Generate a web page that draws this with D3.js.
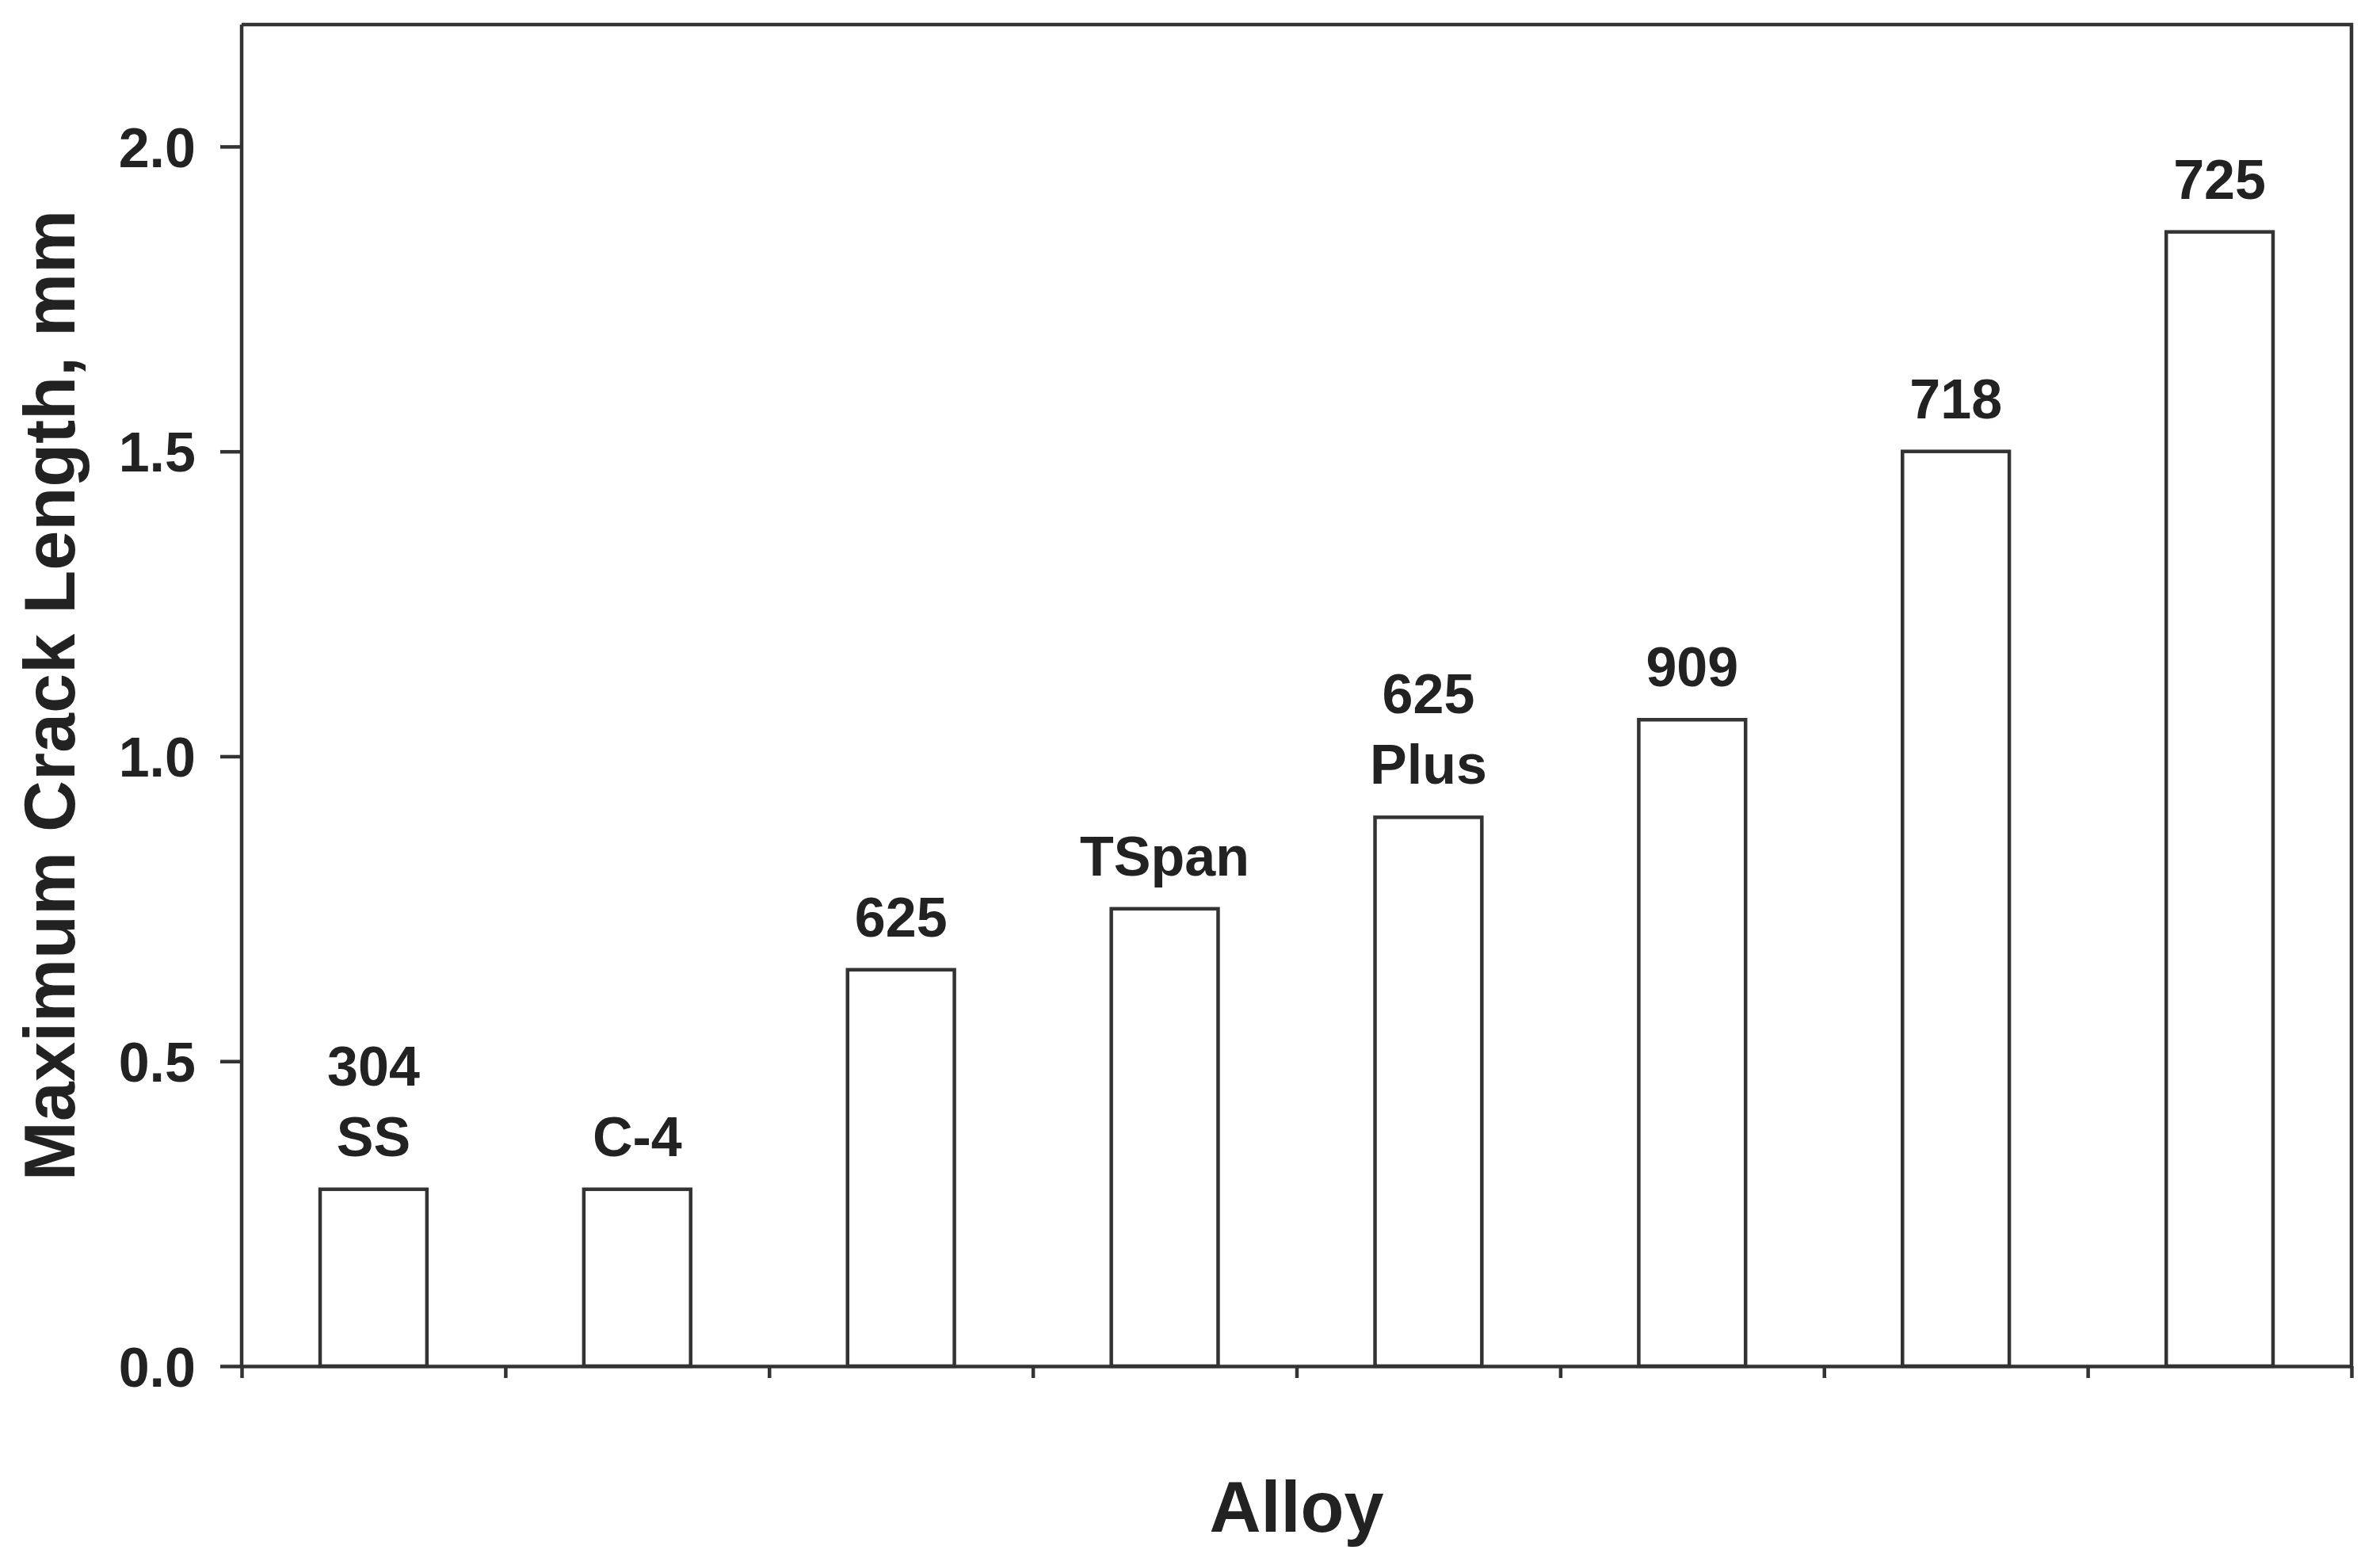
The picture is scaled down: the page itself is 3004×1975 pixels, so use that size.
<!DOCTYPE html>
<html>
<head>
<meta charset="utf-8">
<script src="https://cdn.jsdelivr.net/npm/d3@7"></script>
<style>
  body { margin: 0; background: #fff; }
  text { font-family: "Liberation Sans", Arial, sans-serif; font-weight: bold; fill: #222; }
</style>
</head>
<body>
<svg id="chart"></svg>
<script>
// data
var alloys = ["304 SS", "C-4", "625", "TSpan", "625 Plus", "909", "718", "725"];
var crackLength = [0.29, 0.29, 0.65, 0.75, 0.90, 1.06, 1.50, 1.86];
var yTicks = [0.0, 0.5, 1.0, 1.5, 2.0];

var W = 3004, H = 1975;
var plotL = 305, plotR = 2968, plotT = 31, plotB = 1724;
var ink = "#333";

var svg = d3.select("#chart").attr("width", W).attr("height", H);

var x = d3.scaleBand().domain(alloys).range([plotL, plotR]).padding(0);
var xEdges = d3.scaleLinear().domain([0, alloys.length]).range([plotL, plotR]);
var y = d3.scaleLinear().domain([0, 2.2]).range([plotB, plotT]);

var barW = x.bandwidth() * 0.405;

// frame (top + right)
svg.append("path")
  .attr("d", "M" + plotL + "," + plotT + "H" + plotR + "V" + plotB)
  .attr("fill", "none").attr("stroke", ink).attr("stroke-width", 4.5);

// bars
svg.append("g").selectAll("rect").data(alloys).enter().append("rect")
  .attr("x", function(d) { return x(d) + x.bandwidth() / 2 - barW / 2; })
  .attr("y", function(d, i) { return y(crackLength[i]); })
  .attr("width", barW)
  .attr("height", function(d, i) { return plotB - y(crackLength[i]); })
  .attr("fill", "#fff").attr("stroke", ink).attr("stroke-width", 4.5);

// bar labels (multi-line)
var lab = svg.append("g").selectAll("text").data(alloys).enter().append("text")
  .attr("text-anchor", "middle")
  .style("font-size", "70px")
  .attr("x", function(d) { return x(d) + x.bandwidth() / 2; })
  .attr("y", function(d, i) {
    var n = d.split(" ").length;
    return y(crackLength[i]) - 42 - (n - 1) * 89;
  });
lab.selectAll("tspan").data(function(d) { return d.split(" "); })
  .enter().append("tspan")
  .attr("x", function() { return d3.select(this.parentNode).attr("x"); })
  .attr("dy", function(d, i) { return i == 0 ? 0 : 89; })
  .text(function(d) { return d; });

// y axis
var yAxis = svg.append("g").attr("transform", "translate(" + plotL + ",0)")
  .call(d3.axisLeft(y).tickValues(yTicks).tickFormat(d3.format(".1f"))
    .tickSize(27).tickSizeOuter(0).tickPadding(31));
yAxis.select(".domain").attr("d", "M0," + plotB + "V" + plotT);

// x axis (ticks at category boundaries)
var xAxis = svg.append("g").attr("transform", "translate(0," + plotB + ")")
  .call(d3.axisBottom(xEdges).tickValues(d3.range(alloys.length + 1))
    .tickFormat("").tickSize(15).tickSizeOuter(0));

svg.selectAll(".domain").attr("stroke", ink).attr("stroke-width", 4.5);
svg.selectAll(".tick line").attr("stroke", ink).attr("stroke-width", 4.5);
yAxis.selectAll(".tick text")
  .style("font-size", "70px").style("font-family", "Liberation Sans, Arial, sans-serif")
  .style("font-weight", "bold").attr("fill", "#222").attr("dy", "0.36em");

// axis titles
svg.append("text")
  .attr("transform", "translate(94," + (plotT + plotB) / 2 + ") rotate(-90)")
  .attr("text-anchor", "middle")
  .style("font-size", "90px")
  .text("Maximum Crack Length, mm");

svg.append("text")
  .attr("x", (plotL + plotR) / 2)
  .attr("y", 1933)
  .attr("text-anchor", "middle")
  .style("font-size", "90px")
  .text("Alloy");
</script>
</body>
</html>
